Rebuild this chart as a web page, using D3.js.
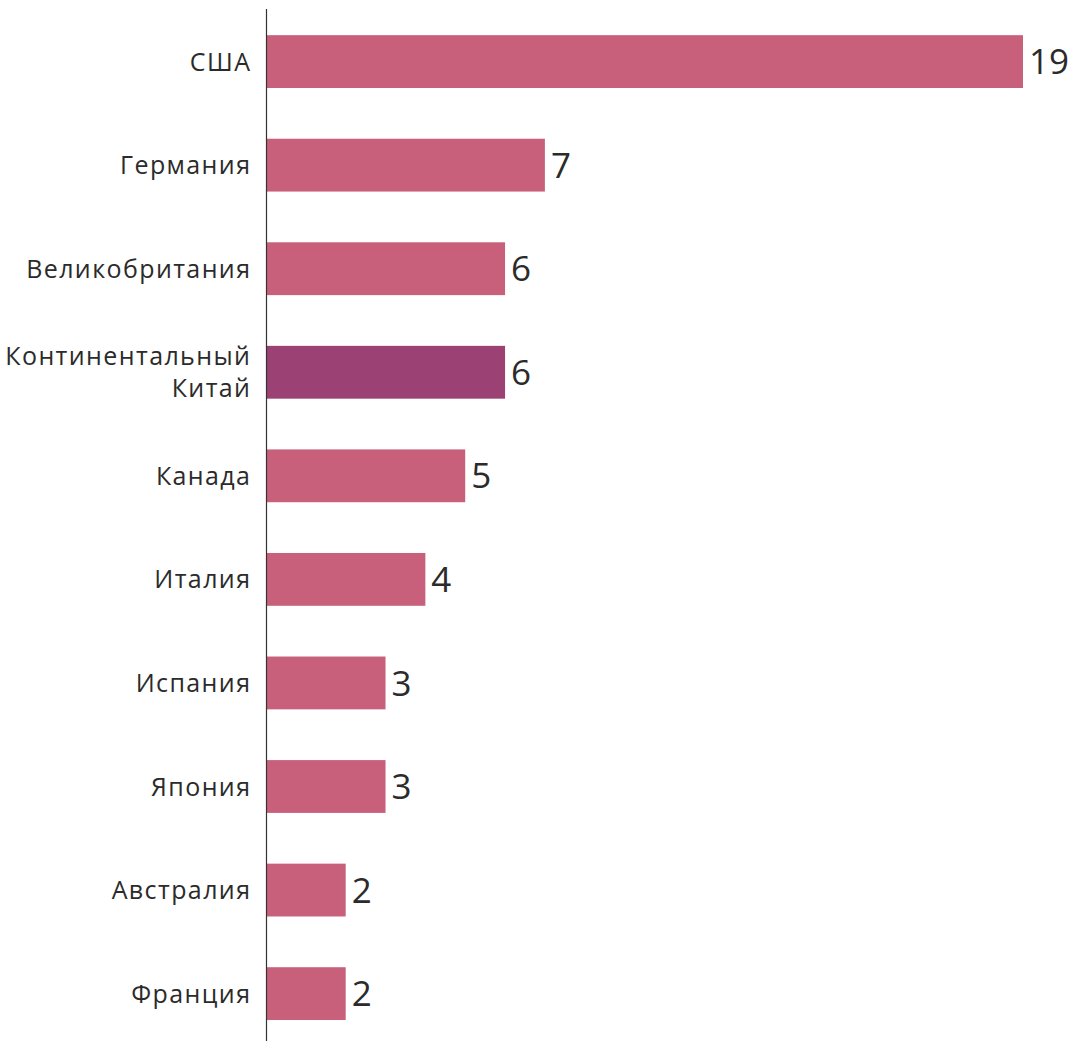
<!DOCTYPE html>
<html>
<head>
<meta charset="utf-8">
<script src="https://cdn.jsdelivr.net/npm/d3@7"></script>
<style>
  html, body { margin: 0; padding: 0; background: #fff; }
  svg { display: block; }
  text { font-family: "Open Sans", "Noto Sans", sans-serif; fill: #2b2b2b; }
  .cat { letter-spacing: 1.4px; font-weight: 500; }
</style>
</head>
<body>
<svg id="chart" width="1072" height="1041"></svg>
<script>
// Countries (labels may span two lines) and their counts
const countries = ["США", "Германия", "Великобритания", "Континентальный\nКитай", "Канада", "Италия", "Испания", "Япония", "Австралия", "Франция"];
const counts = [19, 7, 6, 6, 5, 4, 3, 3, 2, 2];
const highlighted = ["Континентальный\nКитай"];

const svg = d3.select("#chart");
const x0 = 266;

const x = d3.scaleLinear().domain([0, 19]).range([x0, 1023]);
const y = d3.scaleBand()
  .domain(countries)
  .range([9.8, 1045.4])
  .paddingInner(0.49)
  .paddingOuter(0.245);

// bars
svg.append("g").selectAll("rect")
  .data(countries)
  .join("rect")
  .attr("x", x(0) + 1)
  .attr("y", d => y(d))
  .attr("width", (d, i) => x(counts[i]) - x(0) - 1)
  .attr("height", y.bandwidth())
  .attr("fill", d => highlighted.includes(d) ? "#9b4174" : "#c8607b");

// value labels
svg.append("g").selectAll("text")
  .data(countries)
  .join("text")
  .attr("x", (d, i) => x(counts[i]) + 6)
  .attr("y", d => y(d) + y.bandwidth() / 2)
  .attr("dy", "0.36em")
  .attr("font-size", 35)
  .text((d, i) => counts[i]);

// category labels (right-aligned; trailing letter-spacing compensated)
const fs = 25;
const lh = 32;
const labels = svg.append("g").selectAll("text")
  .data(countries)
  .join("text")
  .attr("class", "cat")
  .attr("text-anchor", "end")
  .attr("font-size", fs)
  .attr("y", d => y(d) + y.bandwidth() / 2);

labels.each(function(d) {
  const lines = d.split("\n");
  const t = d3.select(this);
  lines.forEach((ln, k) => {
    t.append("tspan")
      .attr("x", 251.4)
      .attr("dy", k === 0 ? (0.36 * fs - (lines.length - 1) * lh / 2) : lh)
      .text(ln);
  });
});

// vertical axis line
svg.append("line")
  .attr("x1", x0 + 0.5).attr("x2", x0 + 0.5)
  .attr("y1", 9).attr("y2", 1041)
  .attr("stroke", "#333")
  .attr("stroke-width", 1.2);
</script>
</body>
</html>
